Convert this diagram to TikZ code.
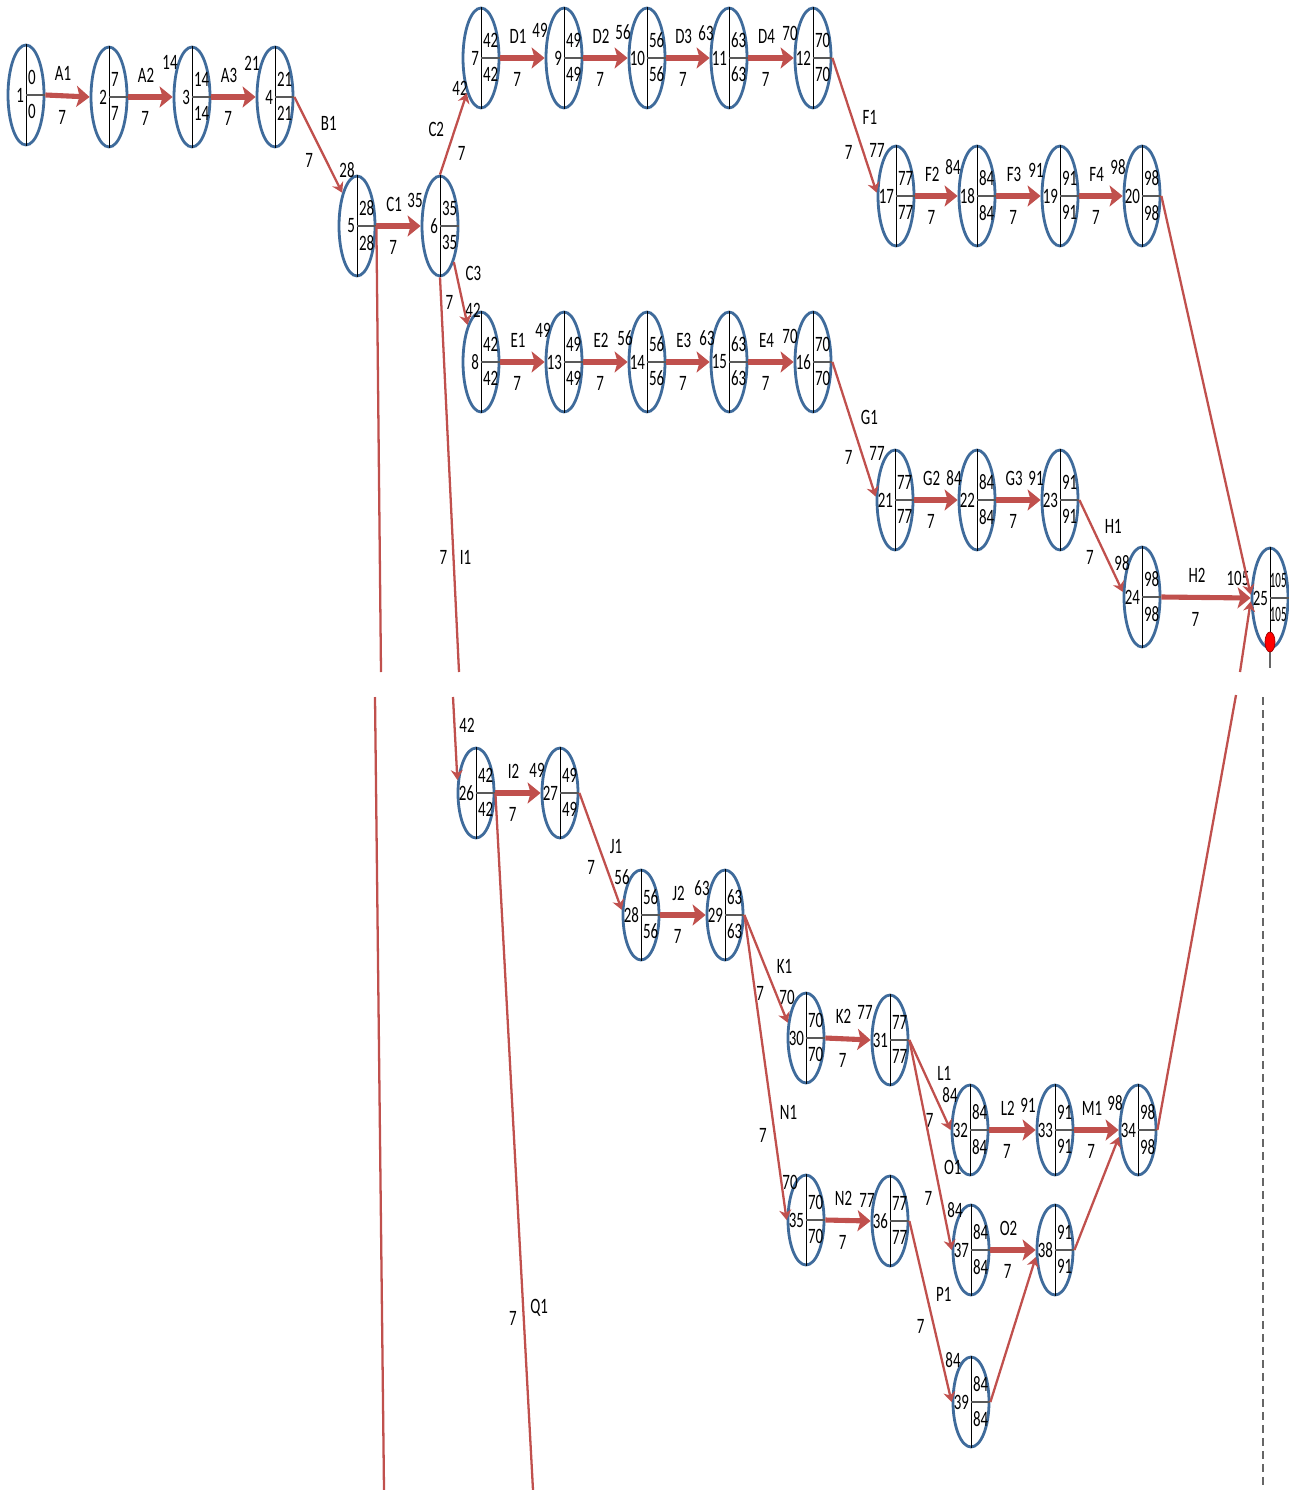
\documentclass[tikz,border=0pt]{standalone}
\usepackage{fontspec}
\setmainfont{Carlito}[FakeStretch=0.68]
\newfontfamily\narrowfont{Carlito}[FakeStretch=0.5]
\usetikzlibrary{arrows.meta,calc,shapes.geometric}

\definecolor{actred}{HTML}{C0504D}
\definecolor{evblue}{HTML}{3F6B9B}

\tikzset{
  evt/.style={ellipse, draw=evblue, line width=1.6pt, minimum width=0.72cm, minimum height=2cm, inner sep=0pt},
  evtb/.style={evt, minimum height=1.8cm},
  vdiv/.style={line width=0.5pt, black},
  hdiv/.style={line width=1.4pt, black!65},
  txt/.style={font=\fontsize{12.5}{13}\selectfont, inner sep=1pt},
  act/.style={draw=actred, line width=2.9pt, -{Stealth[length=0.26cm, width=0.42cm, inset=0.06cm]}},
  dep/.style={draw=actred, line width=1.3pt, -{Stealth[length=0.2cm, width=0.24cm]}},
  lin/.style={draw=actred, line width=1.3pt},
  nmh/.style={txt, pos=0.4, above=6pt},
  duh/.style={txt, pos=0.38, below=6pt},
  nmd/.style={txt, auto, inner sep=3pt},
  dud/.style={txt, auto, swap, inner sep=3pt},
}

\begin{document}
\begin{tikzpicture}[x=0.02cm, y=-0.02cm]
    \useasboundingbox (0,0) rectangle (1288,1490);

    % events, upper part
    \foreach \n/\x/\y/\v in {1/26/95/0, 2/109/97/7, 3/192/97/14, 4/275/97/21,
        5/357/226/28, 6/440/226/35, 7/481/58/42, 9/564/58/49, 10/647/58/56,
        11/729/58/63, 12/813/58/70, 17/896/196/77, 18/977/196/84, 19/1060/196/91,
        20/1142/196/98, 8/481/362/42, 13/564/362/49, 14/647/362/56, 15/729/362/63,
        16/813/362/70, 21/895/500/77, 22/977/500/84, 23/1060/500/91,
        24/1142/597/98}{
        \node[evt] (n\n) at (\x,\y) {};
        \draw[vdiv] (n\n.north) -- (n\n.south);
        \draw[hdiv] (n\n.center) -- (n\n.east);
        \node[txt, anchor=east] (id\n) at (n\n.center) {\n};
        \node[txt, anchor=south west] (es\n) at ($(n\n.center)+(0,-8)$) {\v};
        \node[txt, anchor=north west] (lf\n) at ($(n\n.center)+(0,7)$) {\v};
    }
    % last event sits on the right edge
    \node[evt] (n25) at (1270,598) {};
    \draw[vdiv] (n25.north) -- (n25.south);
    \draw[hdiv] (n25.center) -- (n25.east);
    \node[txt, anchor=east] (id25) at (n25.center) {25};
    \node[txt, anchor=south west, inner sep=0.3pt, font=\fontsize{12.5}{13}\narrowfont] (es25) at ($(n25.center)+(-1,-9)$) {105};
    \node[txt, anchor=north west, inner sep=0.3pt, font=\fontsize{12.5}{13}\narrowfont] (lf25) at ($(n25.center)+(-1,8)$) {105};

    % events, lower part
    \foreach \n/\x/\y/\v in {26/476/793/42, 27/560/793/49, 28/641/915/56,
        29/725/915/63, 30/806/1038/70, 31/890/1040/77, 32/970/1130/84,
        33/1055/1130/91, 34/1138/1130/98, 35/806/1220/70, 36/890/1221/77,
        37/971/1250/84, 38/1055/1250/91, 39/971/1402/84}{
        \node[evtb] (n\n) at (\x,\y) {};
        \draw[vdiv] (n\n.north) -- (n\n.south);
        \draw[hdiv] (n\n.center) -- (n\n.east);
        \node[txt, anchor=east] (id\n) at (n\n.center) {\n};
        \node[txt, anchor=south west] (es\n) at ($(n\n.center)+(0,-8)$) {\v};
        \node[txt, anchor=north west] (lf\n) at ($(n\n.center)+(0,7)$) {\v};
    }

    % times at the arrow heads
    \foreach \n/\t/\dx/\dy in {3/14/-22/-35, 4/21/-23/-34, 5/28/-10/-56, 6/35/-25/-26,
        7/42/-21/30, 9/49/-24/-28, 10/56/-24/-26, 11/63/-23/-25, 12/70/-23/-25,
        17/77/-19/-46, 18/84/-24/-29, 19/91/-24/-26, 20/98/-24/-29, 8/42/-8/-52,
        13/49/-21/-32, 14/56/-22/-24, 15/63/-22/-24, 16/70/-23/-26, 21/77/-18/-47,
        22/84/-23/-22, 23/91/-24/-22, 24/98/-20/-34, 25/105/-32/-20, 26/42/-9/-68,
        27/49/-23/-23, 28/56/-19/-38, 29/63/-23/-27, 30/70/-19/-41, 31/77/-25/-28,
        32/84/-20/-35, 33/91/-27/-25, 34/98/-23/-27, 35/70/-16/-38, 36/77/-23/-21,
        37/84/-16/-40, 39/84/-18/-42}
        \node[txt] (t\n) at ($(n\n)+(\dx,\dy)$) {\t};

    % free ends where the picture is cut
    \coordinate (d5a) at (381,672);
    \coordinate (d5b) at (375,697);
    \coordinate (d5c) at (384,1490);
    \coordinate (i1a) at (459,672);
    \coordinate (i1b) at (453,697);
    \coordinate (q1e) at (533,1490);
    \coordinate (m1a) at (1240,672);
    \coordinate (m1b) at (1236,695);

    % activities, upper part
    \draw[act] (n1.east) -- node[nmh] {A1} node[duh] {7} (n2.west);
    \draw[act] (n2.east) -- node[nmh] {A2} node[duh] {7} (n3.west);
    \draw[act] (n3.east) -- node[nmh] {A3} node[duh] {7} (n4.west);
    \draw[dep] (n4.east) -- node[nmd, pos=0.42] {B1} node[dud, pos=0.52] {7} (n5.114);
    \draw[act] (n5.east) -- node[nmh] {C1} node[duh] {7} (n6.west);
    \draw[dep] (n6.north) -- node[nmd, pos=0.39] {C2} node[dud, pos=0.43] {7} (n7.248);
    \draw[dep] (n6.-69) -- node[nmd, pos=0.39] {C3} node[dud, pos=0.43] {7} (n8.110);
    \draw[act] (n7.east) -- node[nmh] {D1} node[duh] {7} (n9.west);
    \draw[act] (n9.east) -- node[nmh] {D2} node[duh] {7} (n10.west);
    \draw[act] (n10.east) -- node[nmh] {D3} node[duh] {7} (n11.west);
    \draw[act] (n11.east) -- node[nmh] {D4} node[duh] {7} (n12.west);
    \draw[dep] (n12.east) -- node[nmd, pos=0.54] {F1} node[dud, pos=0.6] {7} (n17.170);
    \draw[act] (n17.east) -- node[nmh] {F2} node[duh] {7} (n18.west);
    \draw[act] (n18.east) -- node[nmh] {F3} node[duh] {7} (n19.west);
    \draw[act] (n19.east) -- node[nmh] {F4} node[duh] {7} (n20.west);
    \draw[dep] (n20.east) -- (n25.170);
    \draw[act] (n8.east) -- node[nmh] {E1} node[duh] {7} (n13.west);
    \draw[act] (n13.east) -- node[nmh] {E2} node[duh] {7} (n14.west);
    \draw[act] (n14.east) -- node[nmh] {E3} node[duh] {7} (n15.west);
    \draw[act] (n15.east) -- node[nmh] {E4} node[duh] {7} (n16.west);
    \draw[dep] (n16.east) -- node[nmd, pos=0.51] {G1} node[dud, pos=0.61] {7} (n21.170);
    \draw[act] (n21.east) -- node[nmh] {G2} node[duh] {7} (n22.west);
    \draw[act] (n22.east) -- node[nmh] {G3} node[duh] {7} (n23.west);
    \draw[dep] (n23.east) -- node[nmd, pos=0.44] {H1} node[dud, pos=0.48] {7} (n24.165);
    \draw[act] (n24.east) -- node[nmh] {H2} node[duh] {7} (n25.west);
    \draw[lin] (n5.east) -- (d5a);
    \draw[lin] (d5b) -- (d5c);
    \draw[lin] (n6.south) -- node[nmd, pos=0.71] {I1} node[dud, pos=0.71] {7} (i1a);
    \draw[dep] (i1b) -- (n26.145);
    \draw[lin] (n34.east) -- (m1b);
    \draw[dep] (m1a) -- (n25.190);

    % activities, lower part
    \draw[act] (n26.east) -- node[nmh] {I2} node[duh] {7} (n27.west);
    \draw[lin] (n26.east) -- node[nmd, pos=0.76] {Q1} node[dud, pos=0.735] {7} (q1e);
    \draw[dep] (n27.east) -- node[nmd, pos=0.57] {J1} node[dud, pos=0.52] {7} (n28.165);
    \draw[act] (n28.east) -- node[nmh] {J2} node[duh] {7} (n29.west);
    \draw[dep] (n29.east) -- node[nmd, pos=0.6] {K1} node[dud, pos=0.6] {7} (n30.140);
    \draw[dep] (n29.east) -- node[nmd, pos=0.69] {N1} node[dud, pos=0.68] {7} (n35.west);
    \draw[act] (n30.east) -- node[nmh] {K2} node[duh] {7} (n31.west);
    \draw[dep] (n31.east) -- node[nmd, pos=0.52] {L1} node[dud, pos=0.74] {7} (n32.west);
    \draw[dep] (n31.east) -- node[nmd, pos=0.67] {O1} node[dud, pos=0.69] {7} (n37.west);
    \draw[act] (n32.east) -- node[nmh] {L2} node[duh] {7} (n33.west);
    \draw[act] (n33.east) -- node[nmh] {M1} node[duh] {7} (n34.west);
    \draw[act] (n35.east) -- node[nmh] {N2} node[duh] {7} (n36.west);
    \draw[dep] (n36.east) -- node[nmd, pos=0.48] {P1} node[dud, pos=0.51] {7} (n39.west);
    \draw[act] (n37.east) -- node[nmh] {O2} node[duh] {7} (n38.west);
    \draw[dep] (n39.east) -- (n38.200);
    \draw[dep] (n38.east) -- (n34.200);

    % marker under the last event
    \draw[black!60, line width=1pt] (1270,650) -- (1270,668);
    \filldraw[fill=red, draw=red!60!black, line width=0.4pt] (1270,642) ellipse [x radius=0.1cm, y radius=0.2cm];
    \draw[black!60, line width=1pt, dash pattern=on 0.16cm off 0.1cm] (1263,697) -- (1263,1490);
\end{tikzpicture}
\end{document}
